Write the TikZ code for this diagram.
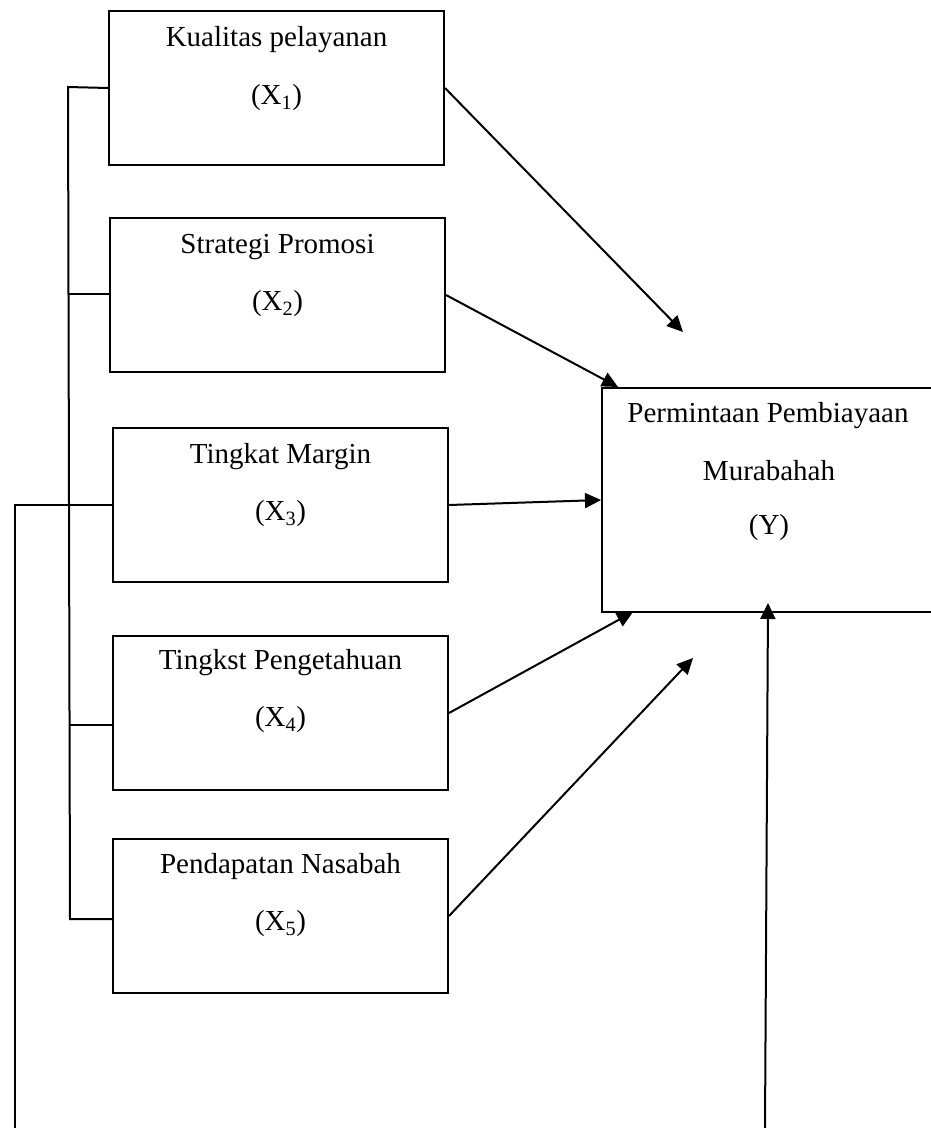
\documentclass[tikz,border=0pt]{standalone}
\usepackage{fontspec}
\setmainfont{Liberation Serif}
\usetikzlibrary{arrows.meta,calc}
\begin{document}
\begin{tikzpicture}[x=1pt,y=-1pt,
 box/.style={draw,line width=2pt,minimum width=335pt,minimum height=154pt,inner sep=0pt,anchor=north west},
 lbl/.style={font=\fontsize{29}{34}\selectfont,inner sep=0pt},
 conn/.style={line width=2pt},
 arr/.style={conn,-{Triangle[length=16pt,width=15pt]}}]
\useasboundingbox (0,0) rectangle (931,1128);
% boxes
\node[box] (X1) at (108,10) {};
\node[box] (X2) at (109,217) {};
\node[box] (X3) at (112,427) {};
\node[box] (X4) at (112,635) {};
\node[box] (X5) at (112,838) {};
\node[box,minimum width=332pt,minimum height=224pt] (Y) at (601,387) {};
% labels
\node[lbl] (X1a) at ($(X1.north)+(0,30)$) {Kualitas pelayanan};
\node[lbl] (X1b) at ($(X1.north)+(0,88)$) {(X\textsubscript{1})};
\node[lbl] (X2a) at ($(X2.north)+(0,30)$) {Strategi Promosi};
\node[lbl] (X2b) at ($(X2.north)+(0,87)$) {(X\textsubscript{2})};
\node[lbl] (X3a) at ($(X3.north)+(0,30)$) {Tingkat Margin};
\node[lbl] (X3b) at ($(X3.north)+(0,87)$) {(X\textsubscript{3})};
\node[lbl] (X4a) at ($(X4.north)+(0,28)$) {Tingkst Pengetahuan};
\node[lbl] (X4b) at ($(X4.north)+(0,85)$) {(X\textsubscript{4})};
\node[lbl] (X5a) at ($(X5.north)+(0,29)$) {Pendapatan Nasabah};
\node[lbl] (X5b) at ($(X5.north)+(0,86)$) {(X\textsubscript{5})};
\node[lbl] (Ya) at (768,416) {Permintaan Pembiayaan};
\node[lbl] (Yb) at (769,471) {Murabahah};
\node[lbl] (Yc) at (769,528) {(Y)};
% arrow targets
\coordinate (t1) at (683,332);
\coordinate (t2) at (618,387);
\coordinate (t4) at (633,612);
\coordinate (t5) at (693,658);
\coordinate (t6) at (768,603);
\coordinate (b6) at (765,1128);
\draw[arr] (X1.east) -- (t1);
\draw[arr] (X2.east) -- (t2);
\draw[arr] (X3.east) -- (Y.west);
\draw[arr] (X4.east) -- (t4);
\draw[arr] (X5.east) -- (t5);
\draw[arr] (b6) -- (t6);
% left bracket
\coordinate (bt) at (68,87);
\coordinate (bb) at (70,919);
\coordinate (k2) at (68,294);
\coordinate (k4) at (69,725);
\draw[conn] (X1.west) -- (bt) -- (bb) -- (bb -| X5.west);
\draw[conn] (k2) -- (k2 -| X2.west);
\draw[conn] (k4) -- (k4 -| X4.west);
% outer line
\coordinate (o1) at (15,505);
\coordinate (o2) at (15,1128);
\draw[conn] (X3.west) -- (o1 |- X3.west) -- (o2);
\end{tikzpicture}
\end{document}
